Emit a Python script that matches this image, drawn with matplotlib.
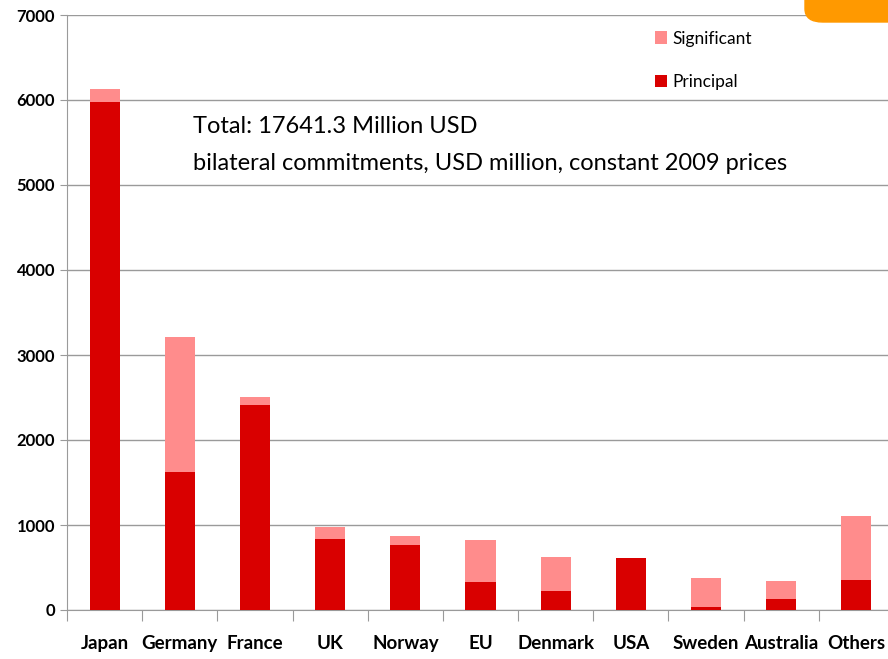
import matplotlib.pyplot as plt
from matplotlib.patches import FancyBboxPatch
import numpy as np

countries = ["Japan", "Germany", "France", "UK", "Norway", "EU", "Denmark",
             "USA", "Sweden", "Australia", "Others"]
principal = [5980, 1625, 2410, 835, 765, 330, 225, 612, 35, 130, 355]
significant = [150, 1590, 95, 140, 105, 495, 400, 0, 340, 210, 750]

C_PRIN = "#D90000"
C_SIG = "#FF8C8C"
FONT = ["Lato", "DejaVu Sans"]

plt.rcParams["font.family"] = FONT

fig = plt.figure(figsize=(8.88, 6.59), dpi=100)
ax = fig.add_axes([67 / 888, (659 - 610) / 659, (894 - 67) / 888, (610 - 15) / 659])

x = np.arange(len(countries))
ax.bar(x, principal, width=0.4, color=C_PRIN, label="Principal", zorder=3)
ax.bar(x, significant, width=0.4, bottom=principal, color=C_SIG,
       label="Significant", zorder=3)

ax.set_xlim(-0.5, len(countries) - 0.5)
ax.set_ylim(0, 7000)
ax.set_yticks(range(0, 7001, 1000))
ax.yaxis.grid(True, color="#9a9a9a", linewidth=1, zorder=0)

# x ticks at category borders, labels centred under bars
ax.set_xticks(np.arange(-0.5, len(countries), 1))
ax.set_xticklabels([])
ax.set_xticks(x, minor=True)
ax.set_xticklabels(countries, minor=True, fontsize=13.5, fontweight="bold")
ax.tick_params(axis="x", which="minor", length=0, pad=18)
ax.tick_params(axis="x", which="major", length=8, color="#9a9a9a")
ax.tick_params(axis="y", length=5, color="#9a9a9a", labelsize=12)
for lbl in ax.get_yticklabels():
    lbl.set_fontweight("bold")

for s in ["top", "right"]:
    ax.spines[s].set_visible(False)
ax.spines["left"].set_color("#9a9a9a")
ax.spines["bottom"].set_color("#9a9a9a")

ax.text(1.18, 5690, "Total: 17641.3 Million USD", fontsize=17, va="center")
ax.text(1.18, 5250, "bilateral commitments, USD million, constant 2009 prices",
        fontsize=17, va="center")

h, l = ax.get_legend_handles_labels()
leg = ax.legend(h[::-1], l[::-1], loc="upper left", bbox_to_anchor=(0.692, 1.0),
                frameon=False, fontsize=12.5, handlelength=0.7, handleheight=0.7,
                handletextpad=0.3, labelspacing=1.6)

# orange decoration top right
fig.patches.append(FancyBboxPatch((805 / 888, (659 - 22) / 659), 0.2, 0.08,
                                  boxstyle="round,pad=0,rounding_size=0.02",
                                  transform=fig.transFigure, color="#FF9900",
                                  zorder=0))

fig.savefig("out.png", dpi=100)
